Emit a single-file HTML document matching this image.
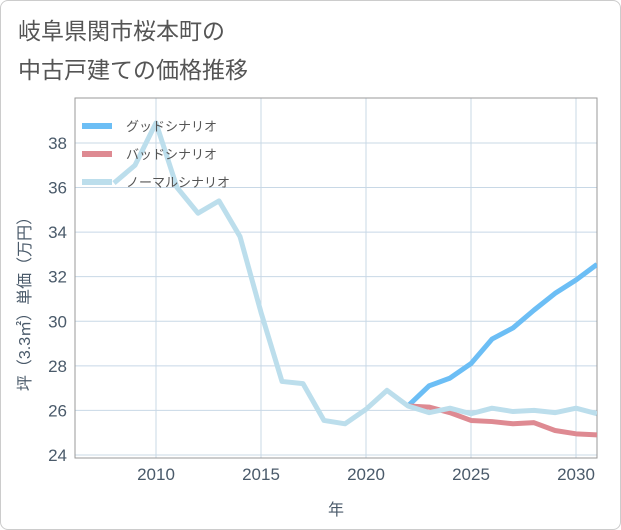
<!DOCTYPE html>
<html><head><meta charset="utf-8"><style>
body{margin:0;background:#fff;font-family:"Liberation Sans","Noto Sans CJK JP",sans-serif}
#card{position:absolute;left:0;top:0;width:619px;height:528px;border:1px solid #ccc;border-radius:8px;background:#fff}
#title{position:absolute;left:18px;top:12px;font-size:23px;line-height:39px;color:#555}
</style></head><body>
<div id="card"></div>
<div id="title">岐阜県関市桜本町の<br>中古戸建ての価格推移</div>
<svg id="chart" width="621" height="530" style="position:absolute;left:0;top:0"></svg>
<script>
const yearsNormal=[2008,2009,2010,2011,2012,2013,2014,2015,2016,2017,2018,2019,2020,2021,2022,2023,2024,2025,2026,2027,2028,2029,2030,2031];
const valuesNormal=[36.2,37.0,38.9,36.0,34.85,35.4,33.8,30.4,27.3,27.2,25.55,25.4,26.05,26.9,26.2,25.9,26.1,25.85,26.1,25.95,26.0,25.9,26.1,25.85];
const yearsFuture=[2022,2023,2024,2025,2026,2027,2028,2029,2030,2031];
const valuesGood=[26.2,27.1,27.45,28.1,29.2,29.7,30.5,31.25,31.85,32.55];
const valuesBad=[26.2,26.15,25.9,25.55,25.5,25.4,25.45,25.1,24.95,24.9];
const xTicks=[2010,2015,2020,2025,2030];
const yTicks=[24,26,28,30,32,34,36,38];
const X0=75,X1=597,Y0=98,Y1=458;
const xs=y=>156+(y-2010)*21;
const ys=v=>455-(v-24)*22.29;
const svg=document.getElementById('chart');const NS='http://www.w3.org/2000/svg';
function mk(t,a,p){const e=document.createElementNS(NS,t);for(const k in a)e.setAttribute(k,a[k]);(p||svg).appendChild(e);return e;}
const defs=mk('clipPath',{id:'clip'});mk('rect',{x:X0,y:Y0,width:X1-X0,height:Y1-Y0},defs);
xTicks.forEach(v=>{const g=mk('line',{x1:xs(v),x2:xs(v),y1:Y0,y2:Y1,stroke:'#c8d8e6'});


const t=mk('text',{x:xs(v),y:480,'text-anchor':'middle','font-size':17,fill:'#4a5a6a'});t.textContent=v;

});
yTicks.forEach(v=>{const g=mk('line',{x1:X0,x2:X1,y1:ys(v),y2:ys(v),stroke:'#c8d8e6'});


const t=mk('text',{x:67,y:ys(v)+6,'text-anchor':'end','font-size':17,fill:'#4a5a6a'});t.textContent=v;

});
const fr=mk('rect',{x:X0,y:Y0,width:X1-X0,height:Y1-Y0,fill:'none',stroke:'#999'});


function series(xa,va,col,name){const p=mk('polyline',{points:xa.map((y,i)=>xs(y)+','+ys(va[i])).join(' '),fill:'none',stroke:col,'stroke-width':5,'stroke-linejoin':'round','clip-path':'url(#clip)'});

}
series(yearsFuture,valuesGood,'#6cbef5','good-scenario-line');
series(yearsFuture,valuesBad,'#de8a92','bad-scenario-line');
series(yearsNormal,valuesNormal,'#bcdeec','normal-scenario-line');
[['グッドシナリオ','#6cbef5',126],['バッドシナリオ','#de8a92',154],['ノーマルシナリオ','#bcdeec',182]].forEach(([n,c,y])=>{
const g=mk('g',{});

mk('line',{x1:82,x2:112,y1:y,y2:y,stroke:c,'stroke-width':6},g);
const t=mk('text',{x:126,y:y+5,'font-size':13,fill:'#555'},g);t.textContent=n;});
const xl=mk('text',{x:336,y:515,'text-anchor':'middle','font-size':16,fill:'#4a5a6a'});xl.textContent='年';


const yl=mk('text',{x:0,y:0,'text-anchor':'middle','font-size':16,fill:'#4a5a6a',transform:'translate(30,300) rotate(-90)'});yl.textContent='坪（3.3㎡）単価（万円）';


</script>
</body></html>
